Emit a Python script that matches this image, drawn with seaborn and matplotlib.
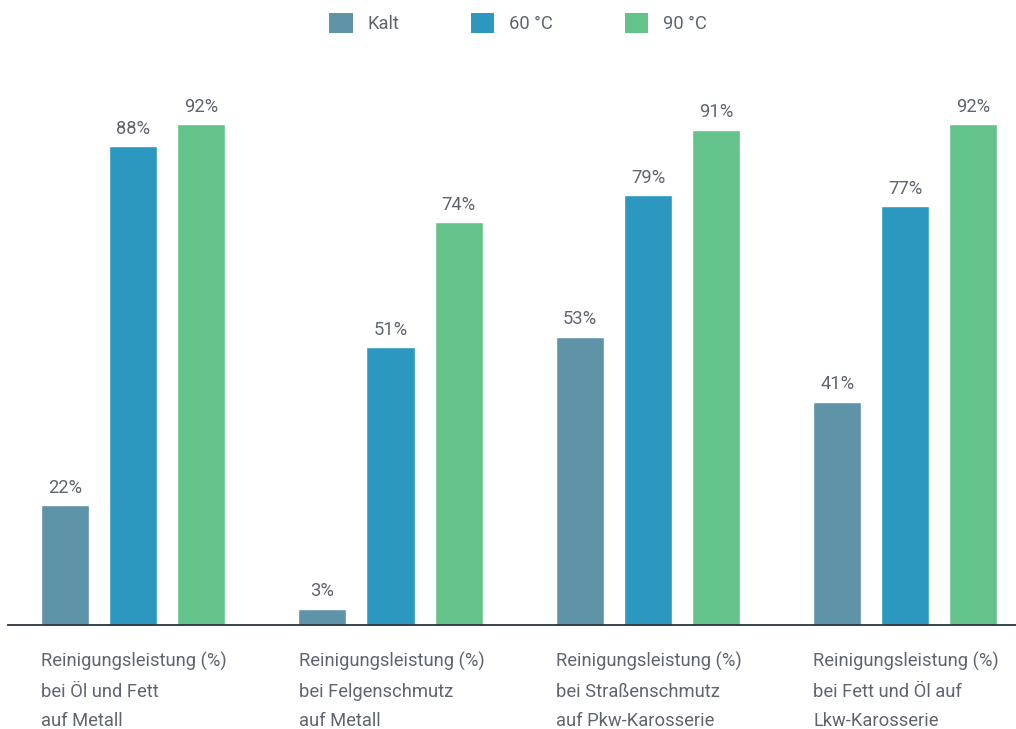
import pandas as pd
import matplotlib
matplotlib.use("Agg")
import matplotlib.pyplot as plt
import matplotlib.transforms as mtransforms
from matplotlib.patches import Patch
import seaborn as sns

# Reading the data off the chart
categories = [
    "Reinigungsleistung (%)\nbei Öl und Fett\nauf Metall",
    "Reinigungsleistung (%)\nbei Felgenschmutz\nauf Metall",
    "Reinigungsleistung (%)\nbei Straßenschmutz\nauf Pkw-Karosserie",
    "Reinigungsleistung (%)\nbei Fett und Öl auf\nLkw-Karosserie",
]
series = ["Kalt", "60 °C", "90 °C"]
kalt = [22, 3, 53, 41]
c60 = [88, 51, 79, 77]
c90 = [92, 74, 91, 92]
colors = ["#5f93a8", "#2c98c0", "#64c28b"]

frame = pd.DataFrame({
    "category": categories * 3,
    "series": [s for s in series for _ in categories],
    "value": kalt + c60 + c90,
})

text_color = "#5f6570"
fsize = 13.2

sns.set_theme(style="white")
plt.rcParams["font.family"] = ["Roboto", "DejaVu Sans"]

fig = plt.figure(figsize=(10.16, 7.29), dpi=100)
ax = fig.add_axes([8 / 1016, 1 - 625 / 729, 1 - 8 / 1016, 565 / 729])

sns.barplot(data=frame, x="category", y="value", hue="series",
            hue_order=series, palette=colors, width=0.794, gap=0.294,
            saturation=1, legend=False, ax=ax)

for cont in ax.containers:
    ax.bar_label(cont, fmt="%d%%", padding=6, fontsize=fsize,
                 color=text_color)

ax.set_xlim(-0.486, 3.43)
ax.set_ylim(0, 103.8)
ax.set_xticks([])
ax.set_yticks([])
ax.set_xlabel("")
ax.set_ylabel("")
sns.despine(ax=ax, left=True, top=True, right=True)
ax.spines["bottom"].set_color("#2b3340")
ax.spines["bottom"].set_linewidth(1.3)

trans = mtransforms.blended_transform_factory(ax.transData, ax.transAxes)
for i, cat in enumerate(categories):
    ax.text(i - 0.357, -0.048, cat, transform=trans, ha="left", va="top",
            fontsize=fsize, color=text_color, linespacing=1.82)

handles = [Patch(facecolor=c, edgecolor="none", label=s) for s, c in zip(series, colors)]
fig.legend(handles=handles, loc="center", bbox_to_anchor=(518 / 1016, 1 - 23 / 729),
           ncol=3, frameon=False, labelcolor=text_color,
           handlelength=1.28, handleheight=1.28, handletextpad=0.8,
           columnspacing=3.9, prop={"size": fsize})

fig.savefig("out.png", dpi=100)
